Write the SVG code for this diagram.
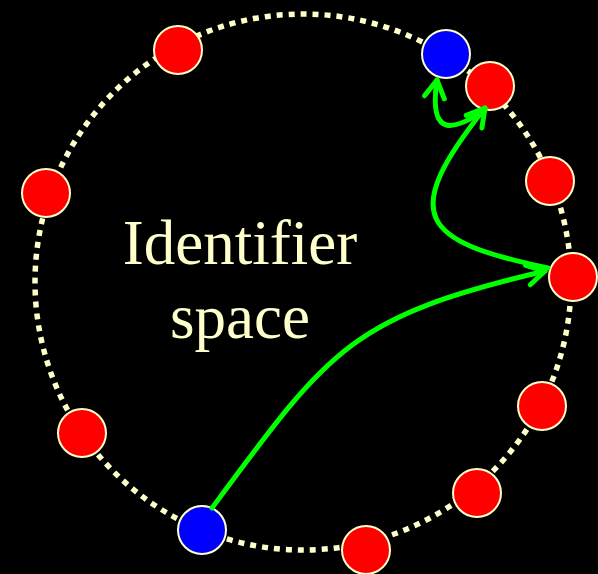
<svg xmlns="http://www.w3.org/2000/svg" width="598" height="574" viewBox="0 0 598 574">
<style>
.ring{fill:none;stroke:#FFFFCC;stroke-width:5.5;stroke-dasharray:6 6}
.red{fill:#FF0000;stroke:#FFFFCC;stroke-width:2}
.blue{fill:#0000FF;stroke:#FFFFCC;stroke-width:2}
.edge{fill:none;stroke:#00FF00;stroke-width:5;stroke-linecap:round;stroke-linejoin:round}
.lbl{font-family:"Liberation Serif","Times New Roman",serif;font-size:63px;fill:#FFFFCC;text-anchor:middle}
</style>
<defs>
<marker id="ah" markerUnits="userSpaceOnUse" viewBox="-22 -14 26 28" refX="0" refY="0" markerWidth="26" markerHeight="28" orient="auto" overflow="visible">
<path d="M-17.5,-10 L0,0 L-17.5,10" fill="none" stroke="#00FF00" stroke-width="5" stroke-linecap="round" stroke-linejoin="round"/>
</marker>
</defs>
<rect width="598" height="574" fill="#000000"/>
<circle class="ring" cx="303" cy="282" r="268"/>
<g id="n1"><circle class="red" cx="178" cy="50" r="24"/></g>
<g id="n2"><circle class="blue" cx="446" cy="54" r="24"/></g>
<g id="n3"><circle class="red" cx="490" cy="86" r="24"/></g>
<g id="n4"><circle class="red" cx="550" cy="181" r="24"/></g>
<g id="n5"><circle class="red" cx="573" cy="277" r="24"/></g>
<g id="n6"><circle class="red" cx="542" cy="406" r="24"/></g>
<g id="n7"><circle class="red" cx="477" cy="493" r="24"/></g>
<g id="n8"><circle class="red" cx="366" cy="550" r="24"/></g>
<g id="n9"><circle class="blue" cx="202" cy="530" r="24"/></g>
<g id="n10"><circle class="red" cx="82" cy="433" r="24"/></g>
<g id="n11"><circle class="red" cx="46" cy="193" r="24"/></g>
<g id="label">
<text class="lbl" x="240" y="264">Identifier</text>
<text class="lbl" x="240" y="338">space</text>
</g>
<g id="connectors">
<path class="edge" marker-end="url(#ah)" d="M212,508 C331,347 351,317 545,271"/>
<path class="edge" marker-end="url(#ah)" d="M548,268 C421,241 398,217 485,108"/>
<path class="edge" marker-end="url(#ah)" d="M485,110 C455,130 428,140 437,80"/>
</g>
</svg>
